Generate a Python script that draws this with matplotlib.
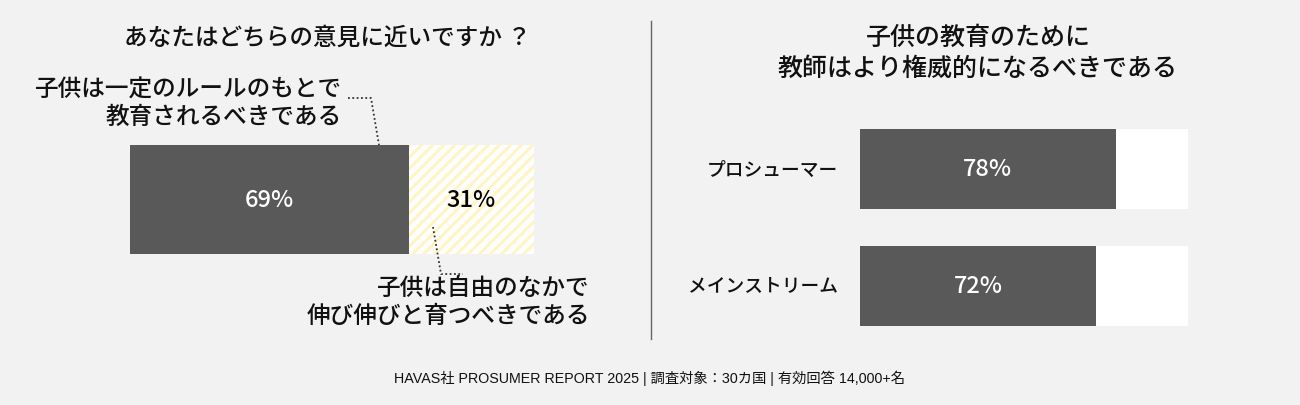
import matplotlib
matplotlib.use("Agg")
import matplotlib.pyplot as plt
from matplotlib.lines import Line2D

# ---- data ----
left_title = "あなたはどちらの意見に近いですか ？"
left_labels = ["子供は一定のルールのもとで\n教育されるべきである",
               "子供は自由のなかで\n伸び伸びと育つべきである"]
left_values = [69, 31]

right_title = "子供の教育のために\n教師はより権威的になるべきである"
right_categories = ["プロシューマー", "メインストリーム"]
right_values = [78, 72]

footer = "HAVAS社 PROSUMER REPORT 2025 | 調査対象：30カ国 | 有効回答 14,000+名"

JP = ["Noto Sans CJK JP", "DejaVu Sans"]
plt.rcParams["font.family"] = JP
plt.rcParams["hatch.linewidth"] = 2.2

W, H = 1300, 406
BG = "#f2f2f2"
DARK = "#595959"
YEL = "#fff4c2"
TXT = "#111111"
WGT = "medium"

fig = plt.figure(figsize=(W / 100, H / 100), dpi=100, facecolor=BG)


def fx(x):
    return x / W


def fy(y):
    return 1 - y / H


# ---- left panel ----
axL = fig.add_axes([fx(130), fy(255), fx(404), 109 / H])
axL.set_facecolor("none")
axL.barh(0, left_values[0], height=1, color=DARK, edgecolor="none")
axL.barh(0, left_values[1], left=left_values[0], height=1, color="white",
         edgecolor=YEL, hatch="///", linewidth=0)
axL.set_xlim(0, sum(left_values))
axL.set_ylim(-0.5, 0.5)
axL.axis("off")
axL.text(left_values[0] / 2, 0, f"{left_values[0]}%", ha="center", va="center",
         color="white", fontsize=17, weight=WGT)
axL.text(left_values[0] + left_values[1] / 2, 0, f"{left_values[1]}%", ha="center",
         va="center", color="black", fontsize=17, weight=WGT)

fig.text(fx(327), fy(38), left_title, ha="center", va="center", fontsize=17,
         color=TXT, weight=WGT)
fig.text(fx(342), fy(104), left_labels[0], ha="right", va="center", fontsize=17,
         color=TXT, linespacing=1.25, weight=WGT)
fig.text(fx(590), fy(302.5), left_labels[1], ha="right", va="center", fontsize=17,
         color=TXT, linespacing=1.25, weight=WGT)

dot = dict(color="#333333", lw=1.3, linestyle=(0, (1, 1.4)), transform=fig.transFigure)
fig.add_artist(Line2D([fx(348), fx(371), fx(379)], [fy(99), fy(99), fy(146)], **dot))
fig.add_artist(Line2D([fx(433), fx(441), fx(463)], [fy(228), fy(275), fy(275)], **dot))

# divider
fig.add_artist(Line2D([fx(651), fx(651)], [fy(22), fy(340)], color="#666666", lw=1,
                      transform=fig.transFigure))

# ---- right panel ----
axR = fig.add_axes([fx(860), fy(327), fx(328), 197 / H])
axR.set_facecolor("none")
ypos = list(range(len(right_categories)))
axR.barh(ypos, [100] * len(ypos), height=80 / 117, color="white", edgecolor="none")
axR.barh(ypos, right_values, height=80 / 117, color=DARK, edgecolor="none")
axR.set_xlim(0, 100)
axR.set_ylim(1 + 40 / 117, -40 / 117)
axR.axis("off")
for yv, v, c in zip(ypos, right_values, right_categories):
    axR.text(v / 2, yv, f"{v}%", ha="center", va="center", color="white",
             fontsize=17, weight=WGT)
    axR.text(-6.7, yv, c, ha="right", va="center", color=TXT, fontsize=13.5, weight=WGT)

fig.text(fx(978), fy(53.5), right_title, ha="center", va="center", fontsize=18,
         color=TXT, linespacing=1.25, weight=WGT)

fig.text(fx(650), fy(378), footer, ha="center", va="center", fontsize=10.3,
         color=TXT, family=["Liberation Sans", "Noto Sans CJK JP"])

fig.savefig("out.png", dpi=100, facecolor=BG)
